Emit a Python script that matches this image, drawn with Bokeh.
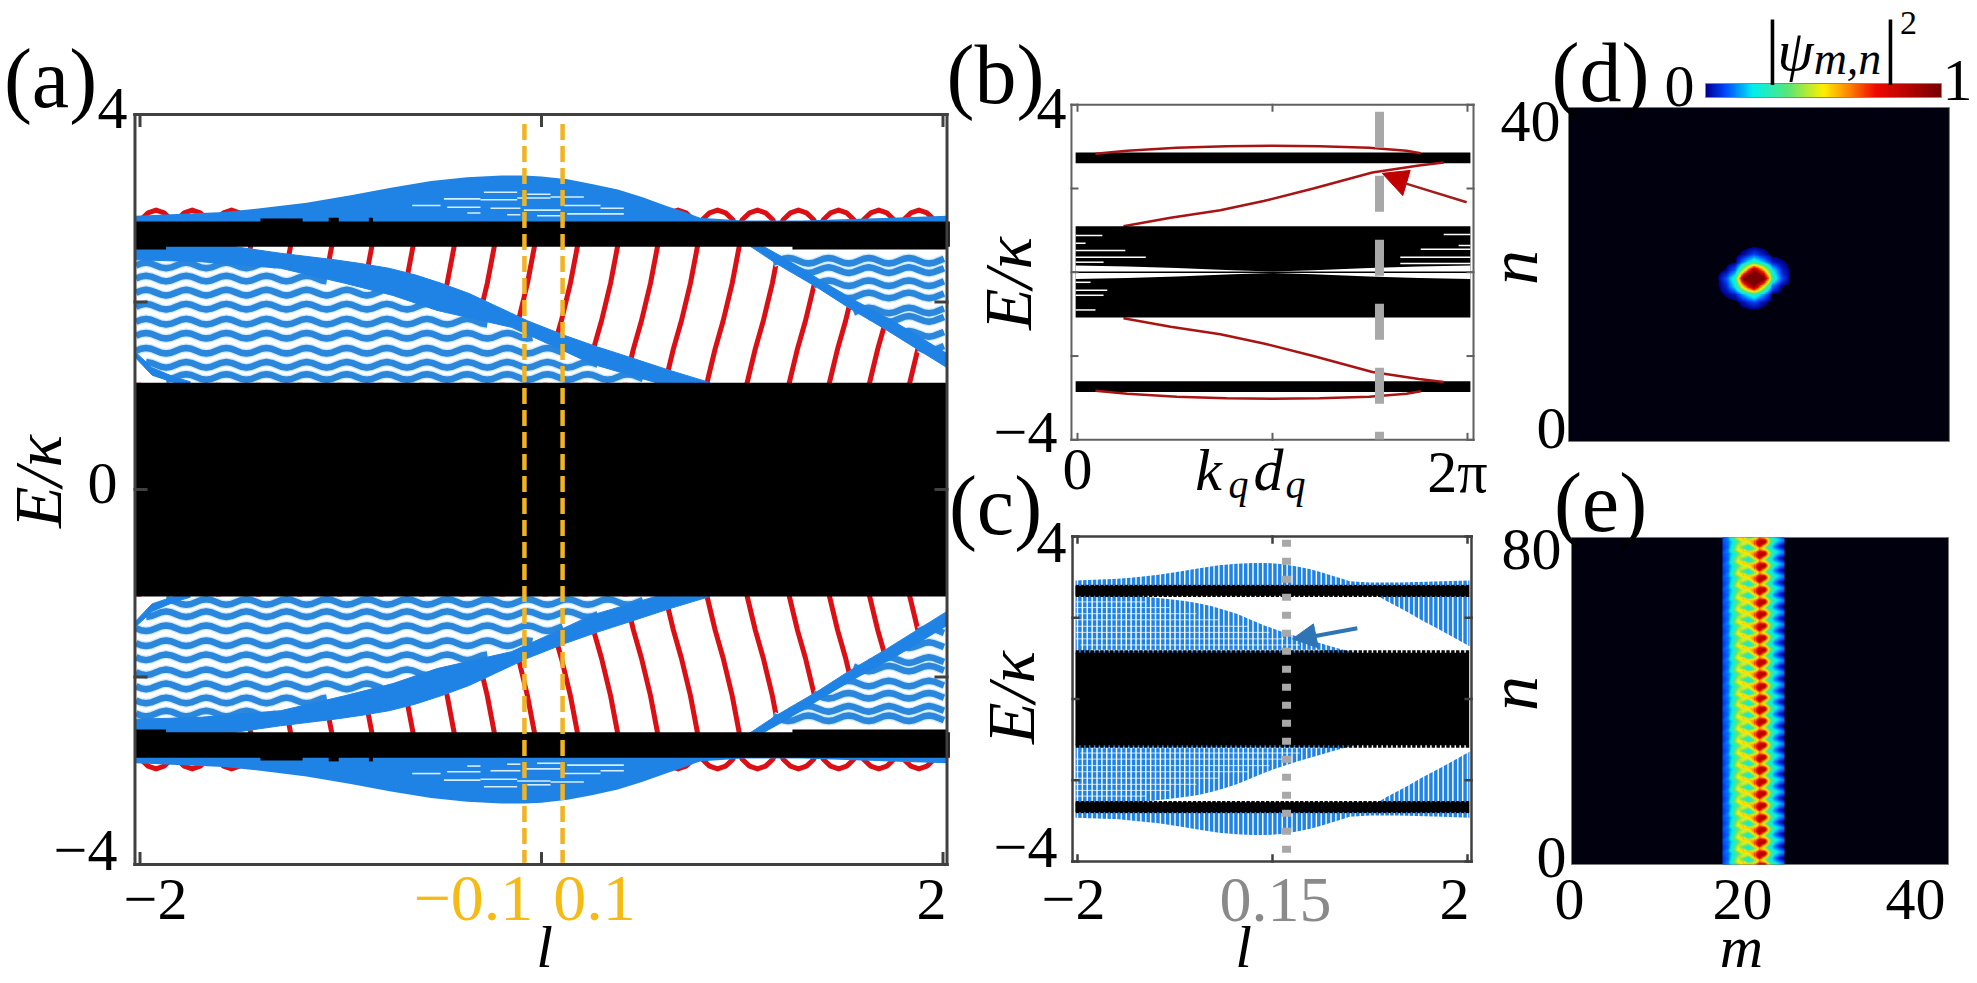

import numpy as np
from math import pi
from bokeh.plotting import figure
from bokeh.models import Label, FixedTicker, Range1d, LinearColorMapper, ColorBar
from bokeh.embed import file_html
from bokeh.resources import INLINE

# ---------- band data (E / kappa against l) ----------
env_l = [-2.02, -1.58, -1.4, -1.17, -0.95, -0.75, -0.55, -0.37, -0.2, -0.085, 0.0, 0.13, 0.25, 0.38, 0.5, 0.63, 0.7, 0.79, 1.0, 1.3, 1.74, 2.02]
env_E = [2.92, 2.96, 3.0, 3.06, 3.14, 3.22, 3.29, 3.33, 3.35, 3.35, 3.34, 3.31, 3.26, 3.2, 3.12, 3.02, 2.97, 2.9, 2.87, 2.87, 2.9, 2.92]
edge_top_l = [-2.02, -1.56, -1.3, -1.03, -0.9, -0.76, -0.63, -0.5, -0.36, -0.23, -0.07, 0.12, 0.28, 0.44, 0.64, 0.84]
edge_top_E = [2.62, 2.6, 2.52, 2.45, 2.41, 2.36, 2.29, 2.2, 2.09, 1.96, 1.8, 1.64, 1.52, 1.41, 1.27, 1.14]
edge_bot_l = [-2.02, -1.7, -1.3, -0.98, -0.74, -0.52, -0.15, 0.09, 0.25, 0.57]
edge_bot_E = [2.45, 2.43, 2.36, 2.2, 2.07, 1.91, 1.73, 1.5, 1.34, 1.14]
right_low_l = [1.036, 1.17, 1.37, 1.53, 1.72, 2.02]
right_low_E = [2.6, 2.41, 2.16, 1.94, 1.70, 1.30]
right_up_l = [1.1, 1.2, 1.4, 1.55, 1.75, 2.02]
right_up_E = [2.6, 2.48, 2.22, 2.03, 1.8, 1.45]
corner_l = [-2.02, -1.94, -1.83, -1.75]
corner_low_E = [1.4, 1.22, 1.14, 1.14]
corner_up_E = [1.46, 1.3, 1.2, 1.15]

wave_l = [round(-2.02 + 0.025 * i, 3) for i in range(162)]
wave_cycle = [0, .021, .03, .021, 0, -.021, -.03, -.021]
wave_dE = (wave_cycle * 21)[:162]
left_levels = [2.39, 2.25, 2.10, 1.95, 1.79, 1.64, 1.48, 1.33, 1.20]
left_start = [-2.02, -2.02, -2.02, -2.02, -2.02, -2.02, -2.02, -1.97, -1.87]
left_end = [-1.3, -1.05, -0.78, -0.55, -0.25, -0.03, 0.12, 0.28, 0.52]
right_levels = [2.44, 2.34, 2.20, 2.07, 1.91, 1.82, 1.66, 1.51, 1.38]
right_start = [1.15, 1.22, 1.34, 1.44, 1.55, 1.62, 1.76, 1.87, 1.97]

red_top_l = [-1.84, -1.64, -1.444, -1.245, -1.04, -0.84, -0.635, -0.43, -0.23, -0.03, 0.184, 0.384,
             0.583, 0.782, 0.99, 1.19, 1.40, 1.60, 1.80, 2.0]
red_E = [2.65, 2.2, 1.8, 1.5, 1.10]
red_dl = [0.0, -0.04, -0.085, -0.125, -0.17]
bump_peaks = [-1.92, -1.74, -1.544, -1.35, -1.166, 0.68, 0.877, 1.076, 1.28, 1.48, 1.68, 1.88]
bump_dl = [-0.1, -0.075, -0.04, 0.0, 0.04, 0.075, 0.1]
bump_E = [2.78, 2.88, 2.95, 2.98, 2.95, 2.88, 2.78]

fleck_l0 = [-0.486, -0.304, -0.121, 0.045, -0.071, -0.287, -0.470, -0.254, -0.088, 0.111, 0.128, -0.370, -0.171, -0.022, -0.644, 0.294]
fleck_l1 = [-0.304, -0.121, 0.045, 0.211, 0.045, -0.121, -0.304, -0.105, 0.095, 0.294, 0.410, -0.304, -0.105, 0.095, -0.503, 0.410]
fleck_E = [3.10, 3.09, 3.11, 3.12, 3.15, 3.17, 3.01, 3.00, 2.98, 3.03, 2.94, 2.95, 2.93, 2.92, 3.03, 3.00]

band_outer = (2.59, 2.86)
band_centre = 1.14
bump_rect_l0 = [-1.4, -1.06, -0.86, -2.02, 1.25]
bump_rect_l1 = [-1.19, -1.01, -0.84, -1.87, 2.02]
bump_rect_E0 = [2.85, 2.85, 2.85, 2.56, 2.56]
bump_rect_E1 = [2.89, 2.90, 2.90, 2.6, 2.6]

yellow_l = [-0.085, 0.105]
a_xticks = [-2, 0, 2]
a_yticks = [-4, -2, 0, 2, 4]

# ---------- panel (b) (E / kappa against k_q d_q) ----------
b_arc_k = [0.29, 0.8, 1.6, 2.4, 3.14, 3.9, 4.7, 5.3, 5.53]
b_arc_E = [2.83, 2.9, 2.97, 3.01, 3.02, 3.01, 2.97, 2.9, 2.84]
b_inner_k = [0.74, 1.5, 2.3, 3.0, 3.8, 4.75, 5.5, 5.9]
b_inner_E = [1.1, 1.3, 1.48, 1.7, 2.0, 2.38, 2.55, 2.62]
b_bars_k0 = [-0.03] * 9 + [5.90, 6.14, 5.53, 5.20, 5.20]
b_bars_k1 = [0.40, 0.13, 0.77, 1.10, 0.42, 0.21, 0.48, 0.42, 0.29] + [6.33] * 5
b_bars_E = [0.88, 0.69, 0.52, 0.36, 0.24, -0.24, -0.43, -0.55, -0.9, 0.9, 0.64, 0.55, 0.36, 0.21]
b_gap_k = [-0.03, 0.8, 1.6, 2.5, 3.14, 3.8, 4.7, 5.5, 6.33]
b_gap_E = [0.16, 0.14, 0.10, 0.05, 0.02, 0.05, 0.10, 0.14, 0.16]
b_dash_k = 4.865
b_arrow_k = [4.91, 5.36, 5.24]
b_arrow_E = [2.36, 2.43, 1.83]
b_tail_k = [5.28, 6.27]
b_tail_E = [2.12, 1.67]
b_xticks = [0, pi, 2 * pi]

# ---------- panel (c) ----------
c_dash_l = 0.144
c_arrow_l = [0.205, 0.42, 0.47]
c_arrow_E = [1.48, 1.85, 1.26]
c_tail_l = [0.44, 0.87]
c_tail_E = [1.55, 1.74]

# ---------- heat maps ----------
spot = [
    [0, 0, 0, 0, 0, 0, 0, 0, 0],
    [0, 0, 0, .03, .09, .04, 0, 0, 0],
    [0, 0, .01, .16, .28, .18, .05, .02, 0],
    [0, .02, .12, .5, .95, .6, .22, .06, 0],
    [0, .1, .28, 1.05, 1.3, 1.05, .30, .1, 0],
    [0, .06, .22, .6, .95, .5, .12, .02, 0],
    [0, .02, .05, .18, .28, .16, .01, 0, 0],
    [0, 0, 0, .04, .09, .03, 0, 0, 0],
    [0, 0, 0, 0, 0, 0, 0, 0, 0],
]
stripe = [
    [.10, .12, .22, .36, .45, .50, .62, .85, .90, .40, .22, .14, .10],
    [.09, .13, .24, .40, .50, .42, .60, .90, .70, .35, .18, .10, .04],
    [.08, .12, .26, .45, .40, .25, .50, .80, .50, .28, .13, .05, .00],
    [.08, .12, .28, .50, .30, .20, .35, .60, .42, .26, .15, .08, .02],
    [.08, .14, .32, .52, .55, .30, .40, .65, .55, .30, .20, .14, .06],
    [.10, .14, .26, .40, .55, .55, .55, .80, .80, .40, .25, .18, .12],
]
cmap_pos = [0.0, 0.08, 0.2, 0.35, 0.5, 0.6, 0.72, 1.0]
cmap_r = [0, 0, 0, 90, 255, 255, 240, 120]
cmap_g = [0, 70, 240, 230, 240, 140, 10, 0]
cmap_b = [140, 255, 240, 120, 0, 0, 0, 0]

SERIF = "Liberation Serif"
BLUE = "#1f83e6"
WAVE = "#2b87dc"
HALO = "#cfeafc"
RED = "#dc0f14"
DRED = "#a81414"
GRAY = "#a8a8a8"
YEL = "#f0b323"
YELT = "#f6bb12"

W, H = 1977, 983
p = figure(width=W, height=H, x_range=Range1d(0, W), y_range=Range1d(H, 0), toolbar_location=None,
           output_backend="svg", min_border=0, background_fill_color="white", border_fill_color="white")
p.axis.visible = False
p.grid.visible = False
p.outline_line_color = None


def panel(name, x_at_0, x_per_px, y_at_0, y_per_px):
    """Data scale of one panel, stated as the data value at canvas pixel 0 and the data per pixel."""
    p.extra_x_ranges[name] = Range1d(x_at_0, x_at_0 + W * x_per_px)
    p.extra_y_ranges[name] = Range1d(y_at_0 - H * y_per_px, y_at_0)
    return dict(x_range_name=name, y_range_name=name)


ka = panel("a", -541 / 200.75, 1 / 200.75, 489 / 93.75, 1 / 93.75)
kb = panel("b", -1077 * 2 * pi / 390, 2 * pi / 390, 271.75 / 41.9, 1 / 41.9)
kc = panel("c", -1272 / 97.5, 1 / 97.5, 698.5 / 40.625, 1 / 40.625)
kd = panel("d", -1568 / 9.29, 1 / 9.29, 441 / 8.146, 1 / 8.146)
ke = panel("e", -1571 / 9.195, 1 / 9.195, 864 / 3.988, 1 / 3.988)


def mir(v):
    return [-e for e in v]


def put(s, cx, cy, size=60, color="black", style="normal", angle=0.0):
    p.add_layout(Label(x=cx, y=cy, text=s, text_align="center", text_baseline="middle", text_font=SERIF,
                       text_font_size=f"{size}px", text_color=color, text_font_style=style, angle=angle))


def frame(k, x0, x1, y0, y1, xt, yt, color, lw, tx, ty):
    xs0 = [x0, x1, x0, x1]
    ys0 = [y0, y0, y0, y1]
    xs1 = [x0, x1, x1, x0]
    ys1 = [y1, y1, y0, y1]
    for t in xt:
        xs0 += [t, t]; xs1 += [t, t]; ys0 += [y0, y1]; ys1 += [y0 + ty, y1 - ty]
    for t in yt:
        xs0 += [x0, x1]; xs1 += [x0 + tx, x1 - tx]; ys0 += [t, t]; ys1 += [t, t]
    p.segment(xs0, ys0, xs1, ys1, line_color=color, line_width=lw, line_cap="square", **k)


def bilinear(m, ny, nx):
    m = np.asarray(m, float)
    yi = np.linspace(0, m.shape[0] - 1, ny)
    xi = np.linspace(0, m.shape[1] - 1, nx)
    a = np.array([np.interp(xi, np.arange(m.shape[1]), r) for r in m])
    return np.array([np.interp(yi, np.arange(m.shape[0]), c) for c in a.T]).T


# ---------- (a) ----------
w_arr = np.array(wave_l)
off = np.array(wave_dE)
for s in (1, -1):
    sg = lambda v: [s * e for e in v]
    p.multi_line([[t + d for d in red_dl] for t in red_top_l], [sg(red_E)] * len(red_top_l), line_color=RED,
                 line_width=5, line_join="round", **ka)
    p.multi_line([list(np.clip([t + d for d in bump_dl], -2.02, 2.02)) for t in bump_peaks], [sg(bump_E)] * len(bump_peaks),
                 line_color=RED, line_width=5, line_join="round", **ka)
    # the wedges hide the red curves that run behind them
    p.patch(edge_top_l + [0.84, -2.02], sg(edge_top_E + [1.14, 1.14]), fill_color="white", line_color=None, **ka)
    p.patch(right_low_l + [2.02, 1.036], sg(right_low_E + [2.6, 2.6]), fill_color="white", line_color=None, **ka)
    xs, ys = [], []
    for lev, a, b in zip(left_levels, left_start, left_end):
        k = (w_arr >= a) & (w_arr <= b)
        xs.append(w_arr[k].tolist())
        ys.append((s * (lev + off[k])).tolist())
    for lev, a in zip(right_levels, right_start):
        k = w_arr >= a
        xs.append(w_arr[k].tolist())
        ys.append((s * (lev + off[k])).tolist())
    p.multi_line(xs, ys, line_color=HALO, line_width=9, line_join="round", **ka)
    p.multi_line(xs, ys, line_color=WAVE, line_width=6.5, line_join="round", **ka)
    p.patch(edge_top_l + edge_bot_l[::-1], sg(edge_top_E + edge_bot_E[::-1]), fill_color=BLUE, line_color=BLUE, **ka)
    p.patch(right_low_l + right_up_l[::-1], sg(right_low_E + right_up_E[::-1]), fill_color=BLUE, line_color=BLUE, **ka)
    p.patch(corner_l + corner_l[::-1], sg(corner_low_E + corner_up_E[::-1]), fill_color=BLUE, line_color=BLUE, **ka)
    p.varea(x=env_l, y1=[s * 2.6] * len(env_l), y2=sg(env_E), fill_color=BLUE, **ka)
    p.segment(fleck_l0, sg(fleck_E), fleck_l1, sg(fleck_E), line_color="#d4eefe", line_width=1.6, **ka)
    p.quad(left=[-2.025], right=[2.034], bottom=[min(s * band_outer[0], s * band_outer[1])],
           top=[max(s * band_outer[0], s * band_outer[1])], fill_color="black", line_color=None, **ka)
    p.quad(left=bump_rect_l0, right=bump_rect_l1, bottom=[min(s * a, s * b) for a, b in zip(bump_rect_E0, bump_rect_E1)],
           top=[max(s * a, s * b) for a, b in zip(bump_rect_E0, bump_rect_E1)], fill_color="black", line_color=None, **ka)
p.quad(left=[-2.025], right=[2.02], bottom=[-band_centre], top=[band_centre], fill_color="black", line_color=None, **ka)
frame(ka, -2.025, 2.02, -4, 4, a_xticks, a_yticks, "#404040", 3, 0.055, 0.117)
for l in yellow_l:
    p.line([l, l], [3.9, -3.98], line_color=YEL, line_width=4.5, line_dash="16 6", **ka)

# ---------- (b) ----------
for s in (1, -1):
    p.quad(left=[-0.03], right=[6.33], bottom=[min(s * 2.6, s * 2.86)], top=[max(s * 2.6, s * 2.86)], fill_color="black",
           line_color=None, **kb)
    p.line(b_arc_k, [s * e for e in b_arc_E], line_color=DRED, line_width=2.5, **kb)
    p.line(b_inner_k, [s * e for e in b_inner_E], line_color=DRED, line_width=2.5, **kb)
p.quad(left=[-0.03], right=[6.33], bottom=[-1.08], top=[1.1], fill_color="black", line_color=None, **kb)
p.segment(b_bars_k0, b_bars_E, b_bars_k1, b_bars_E, line_color="white", line_width=1.5, **kb)
p.varea(x=b_gap_k, y1=b_gap_E, y2=mir(b_gap_E), fill_color="white", **kb)
p.line([-0.097, 6.38], [0, 0], line_color="black", line_width=1.5, **kb)
frame(kb, -0.097, 6.38, -4, 4, b_xticks, a_yticks, "#606060", 2, 0.097, 0.143)
p.line([b_dash_k, b_dash_k], [3.83, -3.99], line_color=GRAY, line_width=9, line_dash="36 28", **kb)
p.patch(b_arrow_k, b_arrow_E, fill_color="#c00000", line_color="#c00000", **kb)
p.line(b_tail_k, b_tail_E, line_color="#a01e1e", line_width=2.5, **kb)

# ---------- (c) ----------
comb_l = np.arange(-2.0, 2.0001, 0.05)
for s in (1, -1):
    sg = lambda v: [s * e for e in v]
    p.varea(x=env_l, y1=[s * 2.6] * len(env_l), y2=sg(env_E), fill_color=BLUE, **kc)
    p.patch(edge_top_l + [0.84, -2.02], sg(edge_top_E + [1.1, 1.1]), fill_color=BLUE, line_color=None, **kc)
    p.patch(right_low_l + [2.02, 1.036], sg(right_low_E + [2.62, 2.62]), fill_color=BLUE, line_color=None, **kc)
    p.multi_line([[a, b] for a, b in zip(left_start, left_end)], [[s * v, s * v] for v in left_levels],
                 line_color="#e8f6ff", line_width=1, line_alpha=0.8, **kc)
p.segment(comb_l, [-3.6] * len(comb_l), comb_l, [3.6] * len(comb_l), line_color="white", line_width=1.4, **kc)
for lo, hi, tooth in [(2.54, 2.78, 0.03), (-2.78, -2.54, 0.03), (-band_centre, band_centre, 0.06)]:
    p.quad(left=[-2.02], right=[2.01], bottom=[lo], top=[hi], fill_color="black", line_color=None, **kc)
    p.segment(comb_l, [lo - tooth] * len(comb_l), comb_l, [hi + tooth] * len(comb_l), line_color="black", line_width=3.4, **kc)
frame(kc, -2.051, 2.041, -4, 4, a_xticks, a_yticks, "#404040", 2.5, 0.06, 0.148)
p.line([c_dash_l, c_dash_l], [3.92, -3.9], line_color=GRAY, line_width=9, line_dash="7 11", **kc)
p.patch(c_arrow_l, c_arrow_E, fill_color="#2f75b5", line_color="#2f75b5", **kc)
p.line(c_tail_l, c_tail_E, line_color="#2f75b5", line_width=4, **kc)

# ---------- colour map ----------
t = np.linspace(0, 1, 256)
palette = ["#%02x%02x%02x" % (int(r), int(g), int(b)) for r, g, b in
           zip(np.interp(t, cmap_pos, cmap_r), np.interp(t, cmap_pos, cmap_g), np.interp(t, cmap_pos, cmap_b))]
mapper = LinearColorMapper(palette=palette, low=0.015, high=1.0, low_color="#00000e", high_color="#7c0000")

# ---------- (d) ----------
p.quad(left=[0], right=[41], bottom=[0], top=[41], fill_color="#00000e", line_color="#7a7a7a", line_width=1, **kd)
p.image(image=[bilinear(spot[::-1], 161, 161)], x=15.95, y=16, dw=8, dh=8, color_mapper=mapper, **kd)
cb = ColorBar(color_mapper=LinearColorMapper(palette=palette, low=0, high=1), location=(1705, H - 97), width=236, height=14,
              padding=0, margin=0, ticker=FixedTicker(ticks=[]), major_tick_line_color=None, minor_tick_line_color=None,
              major_label_text_font_size="0px", orientation="horizontal", bar_line_color="#888888", bar_line_width=1,
              background_fill_color=None, border_line_color=None)
p.add_layout(cb, "center")

# ---------- (e) ----------
p.quad(left=[0], right=[41], bottom=[0], top=[82], fill_color="#00000e", line_color="#7a7a7a", line_width=1, **ke)
tiled = np.tile(np.array(stripe)[::-1], (28, 1))[:164]
p.image(image=[bilinear(tiled, 328, 61)], x=16.42, y=0, dw=6.74, dh=82, color_mapper=mapper, **ke)

# ---------- texts ----------
put("(a)", 50, 78, 84)
put("4", 112, 108)
put("0", 102, 483)
put("\u22124", 85, 850)
put("\u22122", 155, 899)
put("2", 931, 899)
put("\u22120.1", 473, 898, 66, YELT)
put("0.1", 594, 898, 66, YELT)
put("l", 544, 946, 60, style="italic")
put("E/\u03ba", 37, 481, 68, style="italic", angle=pi / 2)

put("(b)", 995, 74, 84)
put("4", 1051, 108)
put("\u22124", 1025, 432)
put("E/\u03ba", 1007, 283, 68, style="italic", angle=pi / 2)
put("0", 1077, 469)
put("2\u03c0", 1457, 471)
put("k", 1208, 469, 60, style="italic")
put("q", 1238, 484, 40, style="italic")
put("d", 1268, 469, 60, style="italic")
put("q", 1295, 484, 40, style="italic")

put("(c)", 995, 505, 84)
put("4", 1051, 542)
put("\u22124", 1025, 847)
put("E/\u03ba", 1010, 697, 68, style="italic", angle=pi / 2)
put("\u22122", 1073, 899)
put("0.15", 1275, 899, 64, "#8a8a8a")
put("2", 1454, 899)
put("l", 1243, 946, 60, style="italic")

put("(d)", 1600, 72, 84)
put("40", 1530, 121)
put("0", 1551, 428)
put("n", 1513, 267, 70, style="italic", angle=pi / 2)
put("0", 1679, 86)
put("1", 1957, 80)
put("|", 1772, 45, 72)
put("\u03c8", 1795, 50, 58, style="italic")
put("m,n", 1847, 58, 46, style="italic")
put("|", 1890, 45, 72)
put("2", 1908, 22, 34)

put("(e)", 1600, 502, 84)
put("80", 1531, 549)
put("0", 1551, 857)
put("n", 1513, 693, 70, style="italic", angle=pi / 2)
put("0", 1569, 899)
put("20", 1742, 899)
put("40", 1915, 899)
put("m", 1741, 946, 60, style="italic")

open("out.html", "w").write(file_html(p, INLINE))
